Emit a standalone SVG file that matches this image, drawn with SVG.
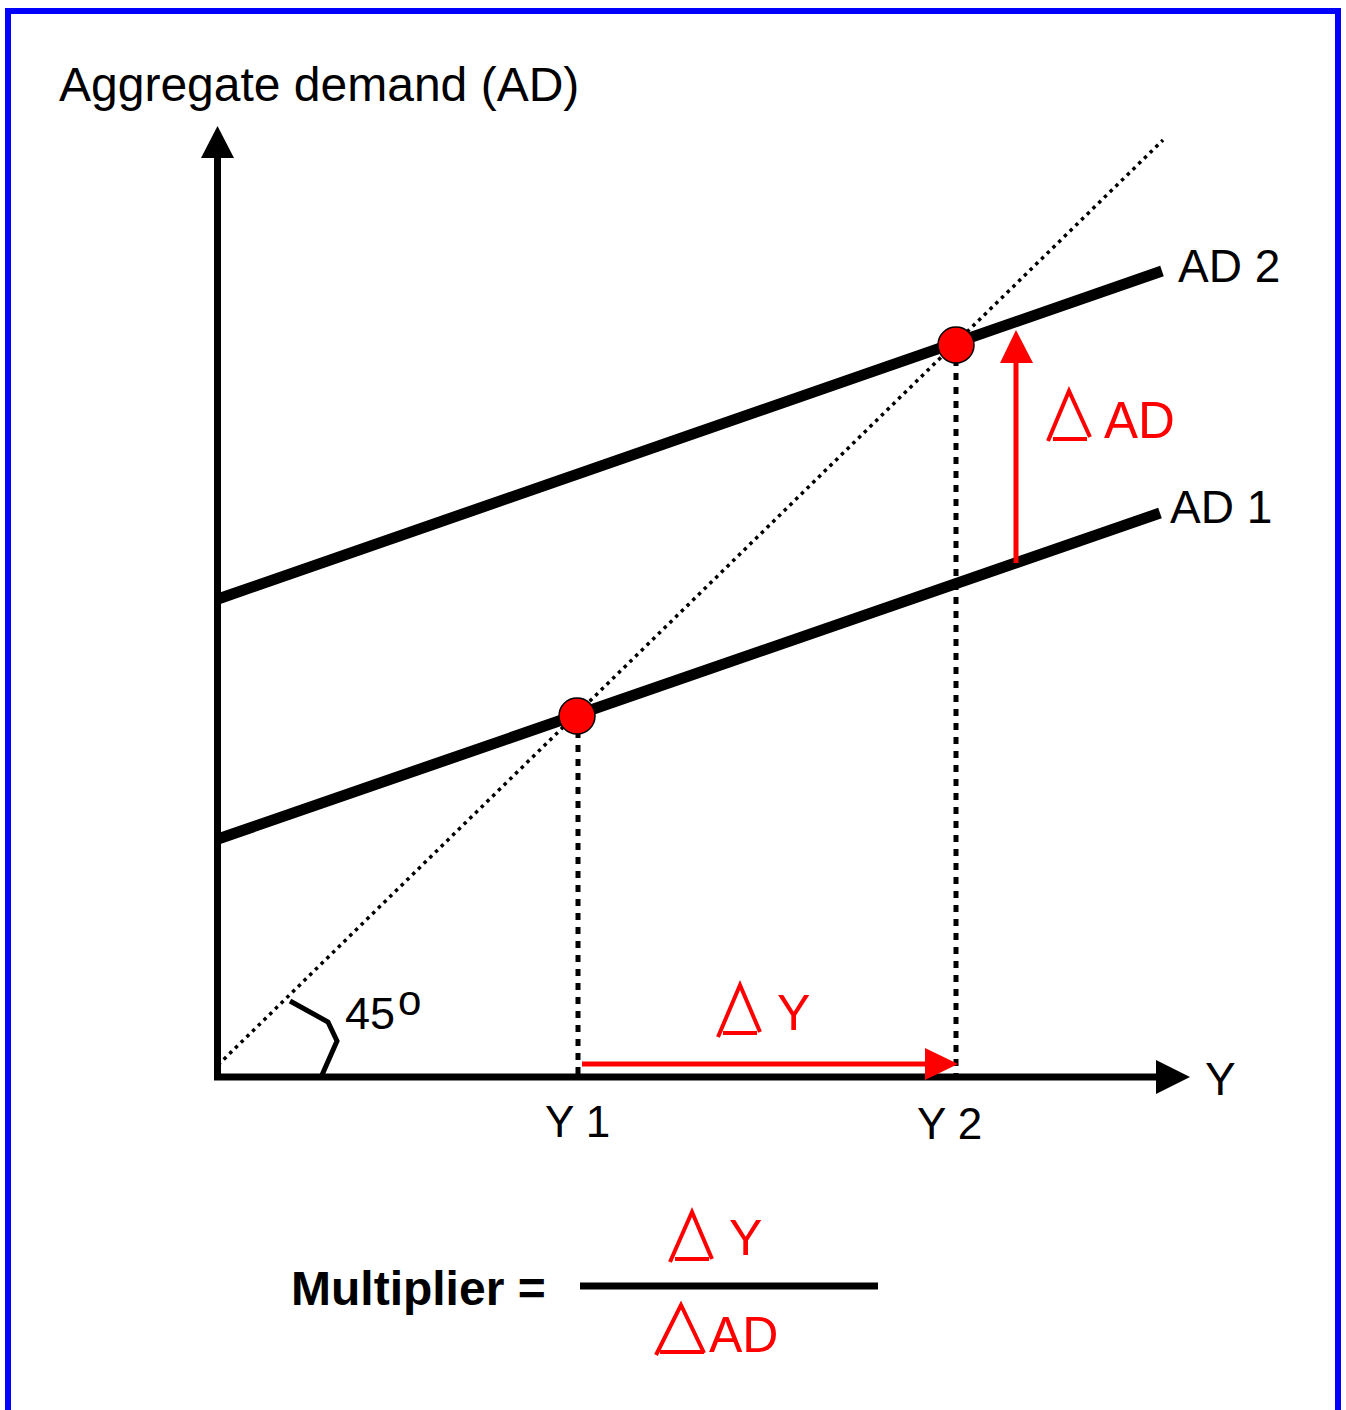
<svg xmlns="http://www.w3.org/2000/svg" width="1346" height="1410" viewBox="0 0 1346 1410">
<style>
text{font-family:"Liberation Sans",Arial,sans-serif}
.lbl{font-size:44px;fill:#000}
.red{fill:#f00;font-size:50px}
.axis{stroke:#000;stroke-width:7;fill:none}
.curve{stroke:#000;stroke-width:11;fill:none}
.drop{stroke:#000;stroke-width:5;stroke-dasharray:7 7;fill:none}
.tri{stroke:#f00;stroke-width:4;fill:none}
.rarrow{stroke:#f00;stroke-width:5;fill:none}
</style>
<rect x="0" y="0" width="1346" height="1410" fill="#fff"/>
<rect x="8" y="11" width="1330" height="1420" fill="none" stroke="#00f" stroke-width="6"/>

<g id="axes">
<line class="axis" x1="217.5" y1="1080" x2="217.5" y2="150"/>
<polygon points="217.5,126 201,158 234,158" fill="#000"/>
<line class="axis" x1="214" y1="1077" x2="1160" y2="1077"/>
<polygon points="1190,1077 1156,1060 1156,1094" fill="#000"/>
<text class="lbl" x="59" y="101" style="font-size:48px">Aggregate demand (AD)</text>
<text class="lbl" x="1205" y="1095" style="font-size:46px">Y</text>
</g>

<g id="connectors">
<line x1="218" y1="1065" x2="1163" y2="140" stroke="#000" stroke-width="3.5" stroke-dasharray="3.5 4.5"/>
<line class="curve" x1="218" y1="839" x2="1160" y2="513"/>
<line class="curve" x1="218" y1="599" x2="1162" y2="271"/>
<line class="drop" x1="578" y1="717" x2="578" y2="1075"/>
<line class="drop" x1="956" y1="345" x2="956" y2="1075"/>
<line class="rarrow" x1="1016" y1="563" x2="1016" y2="360"/>
<polygon points="1016,330 1000,363 1033,363" fill="#f00"/>
<line class="rarrow" x1="582" y1="1064" x2="930" y2="1064"/>
<polygon points="958,1064 925,1048 925,1080" fill="#f00"/>
<polyline points="290,1001 328,1022 337,1041 322,1075" fill="none" stroke="#000" stroke-width="5"/>
</g>

<g id="point-y1">
<circle cx="577" cy="716" r="18" fill="#f00" stroke="#000" stroke-width="1.5"/>
</g>
<g id="point-y2">
<circle cx="956" cy="345" r="18" fill="#f00" stroke="#000" stroke-width="1.5"/>
</g>

<g id="labels">
<text class="lbl" x="1178" y="282" style="font-size:46px">AD 2</text>
<text class="lbl" x="1170" y="523" style="font-size:46px">AD 1</text>
<text class="lbl" x="545" y="1137">Y 1</text>
<text class="lbl" x="917" y="1139">Y 2</text>
<text class="lbl" x="345" y="1029" style="font-size:45px">45</text>
<text class="lbl" x="398" y="1015" style="font-size:42px">o</text>
</g>

<g id="delta-ad">
<polyline class="tri" points="1048,441 1069,391 1090,437"/>
<line class="tri" x1="1053" y1="439" x2="1087" y2="439"/>
<text class="red" x="1104" y="438" style="font-size:51px">AD</text>
</g>

<g id="delta-y">
<polyline class="tri" points="718,1037 740,985 760,1032"/>
<line class="tri" x1="723" y1="1033" x2="757" y2="1033"/>
<text class="red" x="777" y="1030">Y</text>
</g>

<g id="formula">
<text x="291" y="1305" font-size="48" font-weight="bold" fill="#000">Multiplier =</text>
<line x1="580" y1="1286" x2="878" y2="1286" stroke="#000" stroke-width="7"/>
<polyline class="tri" points="670,1262 692,1212 712,1259"/>
<line class="tri" x1="675" y1="1259" x2="709" y2="1259"/>
<text class="red" x="729" y="1255">Y</text>
<polyline class="tri" points="656,1355 681,1305 704,1353"/>
<line class="tri" x1="660" y1="1352" x2="704" y2="1352"/>
<text class="red" x="709" y="1352">AD</text>
</g>
</svg>
